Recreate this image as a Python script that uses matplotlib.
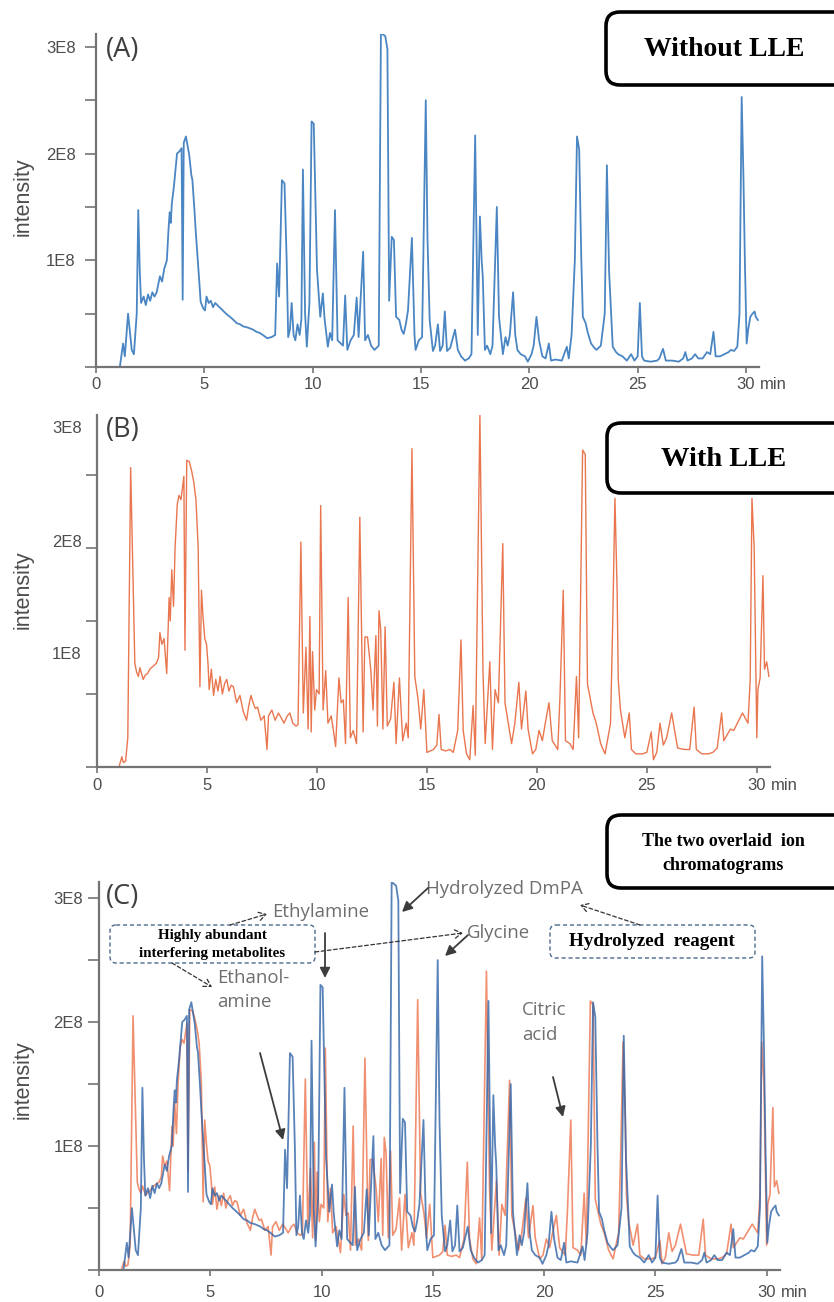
import numpy as np
import matplotlib
matplotlib.use("Agg")
import matplotlib.pyplot as plt
from matplotlib.patches import FancyBboxPatch

# --- data (retention time in min, intensity in units of 1E8) ---
# (A) without LLE
t_a = [0.0, 1.1, 1.25, 1.33, 1.48, 1.58, 1.65, 1.75, 1.88, 1.95, 2.02, 2.08, 2.2, 2.3, 2.4, 2.5,
       2.6, 2.7, 2.8, 2.95, 3.05, 3.15, 3.27, 3.35, 3.4, 3.45, 3.5, 3.6, 3.74, 3.85, 3.95, 4.0,
       4.05, 4.15, 4.3, 4.4, 4.45, 4.55, 4.6, 4.7, 4.75, 4.83, 4.95, 5.03, 5.1, 5.2, 5.3, 5.4,
       5.5, 5.6, 5.75, 5.85, 6.0, 6.18, 6.3, 6.5, 6.65, 6.8, 7.0, 7.25, 7.4, 7.55, 7.7, 7.9,
       8.1, 8.27, 8.36, 8.45, 8.58, 8.7, 8.8, 8.87, 8.95, 9.03, 9.12, 9.2, 9.3, 9.4, 9.48, 9.55,
       9.65, 9.73, 9.85, 9.95, 10.05, 10.2, 10.35, 10.47, 10.55, 10.7, 10.8, 10.9, 11.03, 11.15,
       11.3, 11.4, 11.5, 11.6, 11.75, 11.9, 12.03, 12.12, 12.33, 12.42, 12.55, 12.7, 12.85, 13.0,
       13.05, 13.15, 13.35, 13.45, 13.53, 13.65, 13.75, 13.85, 14.0, 14.1, 14.2, 14.3, 14.4,
       14.58, 14.7, 14.75, 14.9, 15.05, 15.22, 15.3, 15.4, 15.55, 15.65, 15.78, 15.88, 16.0,
       16.1, 16.2, 16.35, 16.57, 16.7, 16.85, 17.03, 17.2, 17.33, 17.5, 17.62, 17.72, 17.8,
       17.85, 17.95, 18.05, 18.2, 18.3, 18.5, 18.6, 18.78, 18.9, 19.0, 19.1, 19.25, 19.35, 19.45,
       19.6, 19.8, 19.93, 20.1, 20.2, 20.33, 20.45, 20.6, 20.75, 20.9, 21.0, 21.2, 21.5, 21.73,
       21.82, 21.95, 22.1, 22.2, 22.3, 22.4, 22.47, 22.6, 22.7, 22.85, 23.0, 23.1, 23.3, 23.48,
       23.58, 23.68, 23.85, 24.0, 24.1, 24.3, 24.5, 24.7, 24.85, 25.0, 25.1, 25.2, 25.3, 25.6,
       25.9, 26.0, 26.17, 26.3, 26.6, 26.9, 27.1, 27.2, 27.3, 27.5, 27.65, 27.8, 28.0, 28.2,
       28.35, 28.5, 28.6, 28.8, 29.0, 29.2, 29.3, 29.45, 29.6, 29.7, 29.8, 29.88, 29.95, 30.03,
       30.1, 30.2, 30.3, 30.4, 30.45, 30.55]
i_a = [0, 0, 0.22, 0.1, 0.5, 0.3, 0.16, 0.12, 0.5, 1.47, 0.9, 0.6, 0.66, 0.58, 0.68, 0.62,
       0.7, 0.66, 0.7, 0.85, 0.8, 0.92, 1.0, 1.3, 1.45, 1.35, 1.53, 1.7, 2.0, 2.02, 2.05, 0.63,
       2.1, 2.16, 1.99, 1.8, 1.75, 1.45, 1.28, 1.0, 0.85, 0.61, 0.55, 0.53, 0.66, 0.6, 0.62, 0.56,
       0.6, 0.58, 0.55, 0.53, 0.5, 0.47, 0.45, 0.41, 0.4, 0.38, 0.37, 0.35, 0.33, 0.32, 0.3, 0.27,
       0.28, 0.3, 0.97, 0.66, 1.75, 1.72, 1.0, 0.28, 0.35, 0.6, 0.3, 0.25, 0.4, 0.3, 0.45, 1.85,
       0.5, 0.19, 0.6, 2.3, 2.28, 0.91, 0.47, 0.69, 0.45, 0.19, 0.32, 0.25, 1.47, 0.25,
       0.22, 0.2, 0.67, 0.16, 0.25, 0.3, 0.65, 0.28, 1.08, 0.25, 0.3, 0.2, 0.16, 0.19,
       0.2, 3.13, 3.1, 2.98, 0.62, 1.22, 1.19, 0.47, 0.44, 0.35, 0.31, 0.4, 0.53,
       1.21, 0.3, 0.16, 0.25, 0.28, 2.5, 1.2, 0.44, 0.15, 0.2, 0.4, 0.15, 0.2,
       0.52, 0.15, 0.18, 0.35, 0.16, 0.1, 0.06, 0.08, 0.12, 2.17, 0.3, 1.41, 1.0,
       0.85, 0.16, 0.2, 0.12, 0.2, 1.5, 0.47, 0.12, 0.28, 0.2, 0.3, 0.7, 0.3, 0.16,
       0.12, 0.1, 0.05, 0.12, 0.2, 0.47, 0.25, 0.1, 0.08, 0.22, 0.06, 0.07, 0.06, 0.19,
       0.08, 0.3, 1.0, 2.16, 2.04, 1.0, 0.47, 0.41, 0.32, 0.22, 0.18, 0.16, 0.2, 0.5,
       1.89, 0.9, 0.19, 0.14, 0.12, 0.1, 0.06, 0.12, 0.06, 0.1, 0.6, 0.1, 0.06, 0.05,
       0.06, 0.08, 0.17, 0.06, 0.06, 0.05, 0.08, 0.14, 0.06, 0.08, 0.12, 0.08, 0.08, 0.14,
       0.12, 0.33, 0.1, 0.1, 0.12, 0.14, 0.16, 0.15, 0.19, 0.5, 2.53, 1.8, 0.97, 0.22,
       0.35, 0.47, 0.5, 0.52, 0.47, 0.44]

# (B) with LLE
t_b = [0.0, 1.0, 1.13, 1.2, 1.3, 1.4, 1.53, 1.62, 1.72, 1.8, 1.88, 1.95, 2.1, 2.2, 2.3, 2.4,
       2.55, 2.7, 2.8, 2.86, 2.95, 3.05, 3.17, 3.28, 3.33, 3.4, 3.48, 3.55, 3.65, 3.73, 3.82,
       3.95, 4.0, 4.08, 4.2, 4.3, 4.4, 4.5, 4.6, 4.68, 4.75, 4.82, 4.9, 4.98, 5.05, 5.1, 5.2,
       5.3, 5.4, 5.5, 5.6, 5.7, 5.8, 5.9, 6.0, 6.1, 6.2, 6.35, 6.5, 6.65, 6.8, 6.9, 7.0, 7.1,
       7.2, 7.3, 7.45, 7.6, 7.73, 7.8, 7.95, 8.1, 8.25, 8.4, 8.5, 8.65, 8.77, 8.9, 9.05, 9.14,
       9.27, 9.38, 9.5, 9.6, 9.68, 9.74, 9.8, 9.9, 9.98, 10.1, 10.17, 10.28, 10.4, 10.5, 10.65,
       10.75, 10.85, 11.0, 11.1, 11.2, 11.3, 11.42, 11.52, 11.65, 11.8, 11.95, 12.1, 12.18,
       12.3, 12.45, 12.55, 12.68, 12.75, 12.82, 12.9, 13.0, 13.1, 13.2, 13.35, 13.5, 13.6,
       13.75, 13.9, 14.06, 14.15, 14.32, 14.45, 14.6, 14.72, 14.86, 15.0, 15.15, 15.3, 15.45,
       15.55, 15.65, 15.85, 16.05, 16.2, 16.4, 16.55, 16.65, 16.8, 16.95, 17.1, 17.2, 17.41,
       17.55, 17.65, 17.86, 17.98, 18.1, 18.25, 18.45, 18.55, 18.7, 18.85, 19.0, 19.18, 19.3,
       19.5, 19.6, 19.8, 19.95, 20.1, 20.25, 20.36, 20.55, 20.7, 20.95, 21.05, 21.2, 21.3,
       21.5, 21.65, 21.8, 21.9, 22.08, 22.2, 22.3, 22.55, 22.7, 22.9, 23.1, 23.35, 23.45, 23.55,
       23.65, 23.7, 23.8, 24.0, 24.2, 24.3, 24.5, 24.8, 25.0, 25.2, 25.3, 25.45, 25.6, 25.75, 25.9,
       26.13, 26.25, 26.4, 26.7, 26.95, 27.15, 27.25, 27.5, 27.8, 28.0, 28.2, 28.4, 28.5,
       28.65, 28.8, 28.95, 29.15, 29.35, 29.6, 29.7, 29.78, 29.88, 30.0, 30.05, 30.15, 30.28,
       30.35, 30.45, 30.55]
i_b = [0, 0, 0.07, 0.03, 0.04, 0.2, 2.05, 1.4, 0.71, 0.65, 0.62, 0.68, 0.6, 0.63, 0.64, 0.67,
       0.69, 0.71, 0.75, 0.92, 0.84, 0.88, 0.64, 1.16, 1.0, 1.35, 1.1, 1.5, 1.8, 1.86, 1.83,
       1.99, 0.8, 2.1, 2.09, 2.03, 1.95, 1.83, 1.5, 0.55, 1.21, 1.03, 0.88, 0.84, 0.7, 0.53, 0.67,
       0.49, 0.6, 0.52, 0.62, 0.5, 0.57, 0.6, 0.52, 0.56, 0.55, 0.44, 0.49, 0.38, 0.32, 0.42, 0.49, 0.44,
       0.4, 0.41, 0.32, 0.35, 0.12, 0.35, 0.39, 0.32, 0.37, 0.33, 0.3, 0.35, 0.37, 0.3, 0.28, 0.29,
       1.54, 0.37, 0.82, 0.26, 1.03, 0.24, 0.79, 0.39, 0.53, 0.5, 1.79, 0.39, 0.66, 0.3, 0.35,
       0.25, 0.14, 0.61, 0.44, 0.46, 0.16, 1.16, 0.2, 0.25, 0.16, 1.71, 0.24, 0.89,
       0.89, 0.66, 0.39, 0.9, 0.28, 1.07, 0.94, 0.26, 0.96, 0.28, 0.33, 0.58, 0.16,
       0.61, 0.18, 0.3, 0.2, 2.18, 0.62, 0.46, 0.26, 0.53, 0.1, 0.11, 0.12, 0.15,
       0.36, 0.12, 0.11, 0.12, 0.1, 0.25, 0.87, 0.25, 0.09, 0.05, 0.42, 0.08, 2.41,
       0.65, 0.16, 0.72, 0.12, 0.53, 0.44, 1.53, 0.44, 0.3, 0.16, 0.3, 0.58, 0.26,
       0.52, 0.26, 0.09, 0.12, 0.25, 0.18, 0.28, 0.44, 0.18, 0.12, 0.48, 1.21, 0.18,
       0.16, 0.12, 0.62, 0.2, 2.17, 2.14, 0.57, 0.37, 0.3, 0.16, 0.09, 0.3, 1.0, 1.84,
       1.2, 0.6, 0.39, 0.2, 0.37, 0.12, 0.09, 0.09, 0.1, 0.24, 0.05, 0.1, 0.3, 0.15, 0.2,
       0.37, 0.26, 0.13, 0.12, 0.12, 0.41, 0.12, 0.09, 0.09, 0.1, 0.13, 0.37, 0.18,
       0.22, 0.26, 0.25, 0.31, 0.37, 0.3, 0.6, 1.84, 1.5, 0.2, 0.53, 0.61, 1.31,
       0.67, 0.72, 0.62]

xticks = [0, 5, 10, 15, 20, 25, 30]
unit = 1e8

blue = "#4a86c3"
orange = "#e9764f"
gray = "#747474"
txt = "#4d4d4d"

W, H = 834, 1302
fig = plt.figure(figsize=(W / 100, H / 100), dpi=100)


def pos(left, right, top, bottom):
    return [left / W, 1 - bottom / H, (right - left) / W, (bottom - top) / H]


def style(ax, ytop, xpad):
    for s in ["top", "right"]:
        ax.spines[s].set_visible(False)
    for s in ["left", "bottom"]:
        ax.spines[s].set_color(gray)
        ax.spines[s].set_linewidth(1.6)
    ax.set_xlim(0, 30.6)
    ax.set_ylim(0, ytop * unit)
    ax.set_xticks(xticks)
    ax.tick_params(axis="x", length=4, width=1.2, color=gray, pad=xpad,
                   labelsize=12, labelcolor=txt)
    for lab in ax.get_xticklabels():
        lab.set_family("Liberation Sans")
    ax.annotate("min", xy=(30, 0), xycoords=("data", "axes fraction"),
                xytext=(10, -4 - xpad), textcoords="offset points",
                ha="left", va="top", fontsize=12, color=txt, family="Liberation Sans")


def yaxis_std(ax, pad):
    ax.set_yticks([0, 1e8, 2e8, 3e8], labels=["", "1E8", "2E8", "3E8"])
    ax.set_yticks([0.5e8, 1.5e8, 2.5e8], minor=True)
    ax.tick_params(axis="y", which="both", length=8, width=1.2, color=gray,
                   pad=pad, labelsize=12, labelcolor=txt)
    for lab in ax.get_yticklabels():
        lab.set_family("Liberation Sans")


# (A)
axA = fig.add_axes(pos(96, 759, 34, 367))
axA.plot(t_a, np.array(i_a) * unit, color=blue, lw=1.3)
style(axA, 3.12, 3)
yaxis_std(axA, 6.5)

# (B)
axB = fig.add_axes(pos(97, 770, 415, 767))
axB.plot(t_b, np.array(i_b) * unit, color=orange, lw=1.0)
style(axB, 2.41, 4)
axB.set_yticks([0, 0.5e8, 1e8, 1.5e8, 2e8], labels=[""] * 5)
axB.set_yticks([0.78e8, 1.55e8, 2.33e8], labels=["1E8", "2E8", "3E8"], minor=True)
axB.tick_params(axis="y", which="major", length=8, width=1.2, color=gray)
axB.tick_params(axis="y", which="minor", length=0, pad=11, labelsize=12, labelcolor=txt)
for lab in axB.get_yticklabels(minor=True):
    lab.set_family("Liberation Sans")

# (C) overlay
axC = fig.add_axes(pos(99, 780, 882, 1270))
axC.plot(t_b, np.array(i_b) * unit, color="#ef8462", lw=1.2, alpha=0.9)
axC.plot(t_a, np.array(i_a) * unit, color="#2f63a8", lw=1.3, alpha=0.8)
style(axC, 3.13, 7)
yaxis_std(axC, 3.5)

# overlay in pixel coordinates for labels, boxes and arrows
ov = fig.add_axes([0, 0, 1, 1])
ov.set_xlim(0, W)
ov.set_ylim(H, 0)
ov.axis("off")

for lab, (x, y) in zip(["(A)", "(B)", "(C)"], [(106, 50), (106, 430), (106, 897)]):
    ov.text(x, y, lab, fontsize=19.5, color="#3f3f3f", family="Open Sans", va="center", ha="left")

for y in [197, 590, 1080]:
    ov.text(23, y, "intensity", rotation=90, fontsize=15.5, color=txt,
            family="Liberation Sans", ha="center", va="center")


def solid_box(x0, y0, y1):
    ov.add_patch(FancyBboxPatch((x0, y0), 260, y1 - y0,
                                boxstyle="round,pad=0,rounding_size=14",
                                fc="white", ec="black", lw=2.6, clip_on=True))


solid_box(606, 12, 85)
ov.text(724, 50, "Without LLE", fontsize=20, weight="bold", family="Liberation Serif",
        ha="center", va="center")
solid_box(607, 423, 493)
ov.text(724, 460, "With LLE", fontsize=20.5, weight="bold", family="Liberation Serif",
        ha="center", va="center")
solid_box(607, 815, 888)
ov.text(723, 842, "The two overlaid  ion", fontsize=13, weight="bold",
        family="Liberation Serif", ha="center", va="center")
ov.text(723, 866, "chromatograms", fontsize=13, weight="bold",
        family="Liberation Serif", ha="center", va="center")

# dashed boxes
dash_c = "#4d6a8c"
ov.add_patch(FancyBboxPatch((110, 925), 205, 38, boxstyle="round,pad=0,rounding_size=6",
                            fc="white", ec=dash_c, lw=1.0, ls=(0, (3, 2))))
ov.text(212, 935, "Highly abundant", fontsize=10.8, weight="bold", family="Liberation Serif",
        ha="center", va="center")
ov.text(212, 953, "interfering metabolites", fontsize=10.8, weight="bold",
        family="Liberation Serif", ha="center", va="center")
ov.add_patch(FancyBboxPatch((550, 925), 205, 33, boxstyle="round,pad=0,rounding_size=6",
                            fc="white", ec=dash_c, lw=1.0, ls=(0, (3, 2))))
ov.text(652, 942, "Hydrolyzed  reagent", fontsize=13.8, weight="bold",
        family="Liberation Serif", ha="center", va="center")

# annotation texts
ann = dict(fontsize=13.4, color="#6e6e6e", family="Open Sans", ha="left", va="center")
ov.text(272, 912, "Ethylamine", **ann)
ov.text(217, 978, "Ethanol-", **ann)
ov.text(217, 1002, "amine", **ann)
ov.text(426, 889, "Hydrolyzed DmPA", **ann)
ov.text(467, 933, "Glycine", **ann)
ov.text(522, 1010, "Citric", **ann)
ov.text(522, 1035, "acid", **ann)

# dashed arrows with open heads
dashed = dict(arrowstyle="->,head_length=0.5,head_width=0.3", color="#333333",
              lw=0.9, ls=(0, (3, 2)), shrinkA=0, shrinkB=0)
for (x0, y0), (x1, y1) in [((230, 925), (267, 914)), ((172, 963), (212, 987)),
                           ((315, 952), (463, 933)), ((640, 925), (580, 905))]:
    ov.annotate("", xy=(x1, y1), xytext=(x0, y0), arrowprops=dashed)

# solid arrows
solid = dict(arrowstyle="-|>,head_length=0.6,head_width=0.3", color="#3c3c3c",
             lw=1.3, shrinkA=0, shrinkB=0)
for (x0, y0), (x1, y1) in [((325, 933), (325, 978)), ((260, 1053), (283, 1140)),
                           ((428, 888), (402, 912)), ((468, 935), (445, 956)),
                           ((553, 1077), (563, 1117))]:
    ov.annotate("", xy=(x1, y1), xytext=(x0, y0), arrowprops=solid)

fig.savefig("out.png", dpi=100)
